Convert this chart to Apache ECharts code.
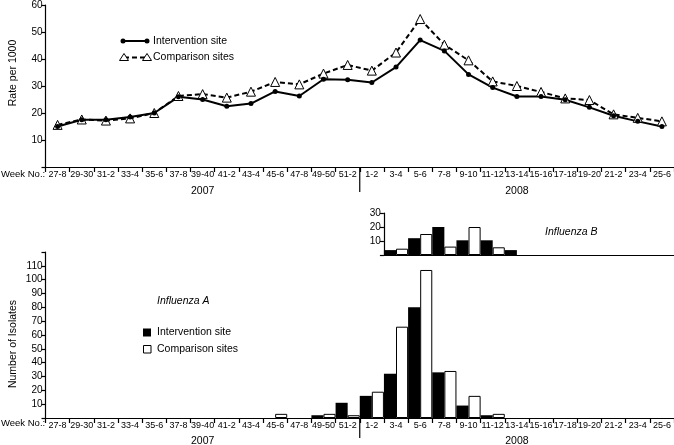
<!DOCTYPE html>
<html><head><meta charset="utf-8">
<script src="https://cdn.jsdelivr.net/npm/echarts@6/dist/echarts.min.js"></script>
<style>html,body{margin:0;padding:0;background:#fff}#c{width:674px;height:445px}</style>
</head><body><div id="c"></div>
<script>
const weeks = ["27-8","29-30","31-2","33-4","35-6","37-8","39-40","41-2","43-4","45-6","47-8","49-50","51-2","1-2","3-4","5-6","7-8","9-10","11-12","13-14","15-16","17-18","19-20","21-2","23-4","25-6"];
const years = ["2007","2008"];
const rateIntervention = [15,17.5,17.5,18.5,20,26,25,22.5,23.5,28,26.3,32.5,32.3,31.3,37,47,43,34.3,29.4,26.1,26.1,24.9,22.1,19,16.9,15];
const rateComparison = [15.6,17.6,17.2,18,20,26.3,27,25.7,27.9,31.5,30.6,34.6,37.8,35.7,42.4,54.8,45.3,39.5,31.7,30,27.8,25.4,24.8,19.5,18.2,16.9];
const fluAIntervention = [0,0,0,0,0,0,0,0,0,0,0,2,11,16,32,80,33,9,2,0,0,0,0,0,0,0];
const fluAComparison = [0,0,0,0,0,0,0,0,0,3,0,3,2,19,66,107,34,16,3,0,0,0,0,0,0,0];
const fluBWeeks = weeks.slice(14);
const fluBIntervention = [3.5,12,20,10.5,10.5,3.5,0,0,0,0,0,0];
const fluBComparison = [4.5,15,6,20,5.5,0,0,0,0,0,0,0];

const FONT = "'Liberation Sans', Arial, sans-serif";
const L = 45.5, W = 628.5;
const catW = W / weeks.length;
const sepX = L + 13 * catW;
const noZero = arr => arr.map(v => (v === 0 ? '-' : v));

function xAxisCfg(gi) {
  return {
    type: 'category', gridIndex: gi, data: weeks, boundaryGap: true,
    axisLine: {show: true, lineStyle: {color: '#000', width: 1.2}},
    axisTick: {show: true, length: 5, interval: 0, lineStyle: {color: '#000', width: 1.2}},
    axisLabel: {interval: 0, margin: 3, fontSize: 9, color: '#000', fontFamily: FONT}
  };
}
function yAxisCfg(gi, max, interval, hideLabels) {
  return {
    type: 'value', gridIndex: gi, min: 0, max: max, interval: interval,
    splitLine: {show: false},
    axisLine: {show: true, lineStyle: {color: '#000', width: 1.2}},
    axisTick: {show: true, length: 4, lineStyle: {color: '#000', width: 1.2}},
    axisLabel: {margin: 3, fontSize: 10, color: '#000', fontFamily: FONT,
      formatter: v => (hideLabels.indexOf(v) >= 0 ? '' : String(v))}
  };
}

const chart = echarts.init(document.getElementById('c'), null, {renderer: 'canvas'});
const txt = (x, y, t, extra) => ({type: 'text', x: x, y: y, style: Object.assign({text: t, fill: '#000', font: '10.5px ' + FONT, align: 'left', verticalAlign: 'middle'}, extra || {})});

chart.setOption({
  animation: false,
  backgroundColor: '#fff',
  grid: [
    {left: L, width: W, top: 3, height: 164},
    {left: L, width: W, top: 252, height: 166},
    {left: L + 14 * catW, width: 12 * catW, top: 213, height: 42}
  ],
  xAxis: [
    xAxisCfg(0),
    xAxisCfg(1),
    {type: 'category', gridIndex: 2, data: fluBWeeks, boundaryGap: true,
     axisLine: {show: true, lineStyle: {color: '#000', width: 1.2}},
     axisTick: {show: false}, axisLabel: {show: false}}
  ],
  yAxis: [
    yAxisCfg(0, 60, 10, [0]),
    yAxisCfg(1, 120, 10, [0, 120]),
    yAxisCfg(2, 30, 10, [0])
  ],
  series: [
    {type: 'line', xAxisIndex: 0, yAxisIndex: 0, data: rateComparison,
     symbol: 'triangle', symbolSize: 9, showAllSymbol: true,
     lineStyle: {color: '#000', width: 2, type: [5, 3]},
     itemStyle: {color: '#fff', borderColor: '#000', borderWidth: 1}},
    {type: 'line', xAxisIndex: 0, yAxisIndex: 0, data: rateIntervention,
     symbol: 'circle', symbolSize: 5, showAllSymbol: true,
     lineStyle: {color: '#000', width: 2},
     itemStyle: {color: '#000'}},
    {type: 'bar', xAxisIndex: 1, yAxisIndex: 1, data: noZero(fluAIntervention),
     barGap: '0%', barCategoryGap: '0%', itemStyle: {color: '#000'}},
    {type: 'bar', xAxisIndex: 1, yAxisIndex: 1, data: noZero(fluAComparison),
     barGap: '0%', barCategoryGap: '0%', itemStyle: {color: '#fff', borderColor: '#000', borderWidth: 1}},
    {type: 'bar', xAxisIndex: 2, yAxisIndex: 2, data: noZero(fluBIntervention),
     barGap: '0%', barCategoryGap: '0%', itemStyle: {color: '#000'}},
    {type: 'bar', xAxisIndex: 2, yAxisIndex: 2, data: noZero(fluBComparison),
     barGap: '0%', barCategoryGap: '0%', itemStyle: {color: '#fff', borderColor: '#000', borderWidth: 1}}
  ],
  graphic: [
    txt(1, 174.5, 'Week No.:', {font: '9.5px ' + FONT}),
    txt(1, 423.5, 'Week No.:', {font: '9.5px ' + FONT}),
    txt((L + sepX) / 2, 191.5, years[0], {align: 'center'}),
    txt((sepX + L + W) / 2, 191.5, years[1], {align: 'center'}),
    txt((L + sepX) / 2, 441, years[0], {align: 'center'}),
    txt((sepX + L + W) / 2, 441, years[1], {align: 'center'}),
    {type: 'line', shape: {x1: sepX, y1: 167, x2: sepX, y2: 192}, style: {stroke: '#000', lineWidth: 1.2}},
    {type: 'line', shape: {x1: sepX, y1: 418, x2: sepX, y2: 438}, style: {stroke: '#000', lineWidth: 1.2}},
    {type: 'text', x: 13, y: 73, rotation: Math.PI / 2, style: {text: 'Rate per 1000', fill: '#000', font: '10.5px ' + FONT, align: 'center', verticalAlign: 'middle'}},
    {type: 'text', x: 13, y: 344, rotation: Math.PI / 2, style: {text: 'Number of Isolates', fill: '#000', font: '10.5px ' + FONT, align: 'center', verticalAlign: 'middle'}},
    {type: 'line', shape: {x1: 123, y1: 41, x2: 147, y2: 41}, style: {stroke: '#000', lineWidth: 2}},
    {type: 'circle', shape: {cx: 123, cy: 41, r: 2.5}, style: {fill: '#000'}},
    {type: 'circle', shape: {cx: 147, cy: 41, r: 2.5}, style: {fill: '#000'}},
    txt(153, 41, 'Intervention site'),
    {type: 'line', shape: {x1: 124, y1: 57.5, x2: 147, y2: 57.5}, style: {stroke: '#000', lineWidth: 2, lineDash: [5, 3]}},
    {type: 'polygon', shape: {points: [[124, 53.5], [128.5, 60.5], [119.5, 60.5]]}, style: {fill: '#fff', stroke: '#000', lineWidth: 1}},
    {type: 'polygon', shape: {points: [[147, 53.5], [151.5, 60.5], [142.5, 60.5]]}, style: {fill: '#fff', stroke: '#000', lineWidth: 1}},
    txt(153, 57.5, 'Comparison sites'),
    txt(157, 301.5, 'Influenza A', {font: 'italic 10.5px ' + FONT}),
    txt(545, 232, 'Influenza B', {font: 'italic 10.5px ' + FONT}),
    {type: 'rect', shape: {x: 143, y: 328.5, width: 8, height: 8}, style: {fill: '#000'}},
    {type: 'rect', shape: {x: 143.5, y: 345.5, width: 7.5, height: 7.5}, style: {fill: '#fff', stroke: '#000', lineWidth: 1}},
    txt(157, 332.5, 'Intervention site'),
    txt(157, 349.5, 'Comparison sites')
  ]
});
</script></body></html>
